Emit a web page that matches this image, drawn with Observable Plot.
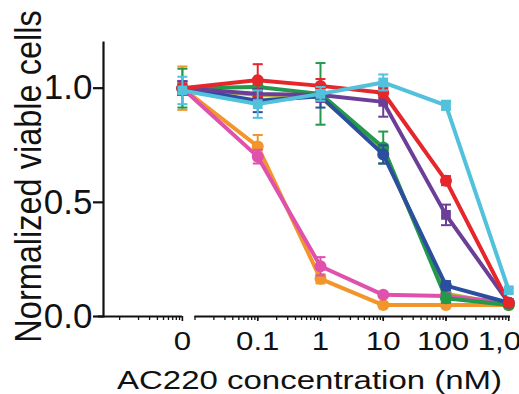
<!DOCTYPE html>
<html><head><meta charset="utf-8">
<script src="https://cdn.jsdelivr.net/npm/d3@7"></script>
<script src="https://cdn.jsdelivr.net/npm/@observablehq/plot@0.6"></script>
<style>body{margin:0;background:#fff}</style>
</head><body><div id="chart"></div>
<script>
// ---- data ----
const concentrations = [0, 0.1, 1, 10, 100, 1000];
const tickLabels = ["0", "0.1", "1", "10", "100", "1,000"];
const zeroPlotValue = 0.0063;           // log-axis stand-in for the "0" dose (axis break)
const breakStart = 0.01;                // second axis segment starts here
const yTicks = [0, 0.5, 1.0];
const xTitle = "AC220 concentration (nM)";
const yTitle = "Normalized viable cells";

const olive      = [1.00, 0.97, 0.96, 0.725, 0.10, 0.05];
const oliveErr   = [0, 0, 0, 0, 0, 0];
const orange     = [1.00, 0.745, 0.165, 0.05, 0.05, 0.05];
const orangeErr  = [0.095, 0.05, 0.02, 0.01, 0.01, 0.01];
const magenta    = [1.00, 0.70, 0.22, 0.095, 0.09, 0.06];
const magentaErr = [0.03, 0.03, 0.04, 0.01, 0.01, 0.01];
const green      = [1.00, 1.005, 0.975, 0.74, 0.08, 0.05];
const greenErr   = [0.085, 0.03, 0.135, 0.07, 0.02, 0.01];
const blue       = [1.00, 0.945, 0.965, 0.71, 0.135, 0.06];
const blueErr    = [0.03, 0.05, 0.05, 0.04, 0.02, 0.01];
const purple     = [1.00, 0.975, 0.97, 0.94, 0.445, 0.06];
const purpleErr  = [0.03, 0.02, 0.03, 0.065, 0.045, 0.01];
const red        = [1.00, 1.035, 1.01, 0.98, 0.595, 0.06];
const redErr     = [0.02, 0.07, 0.03, 0.02, 0.02, 0.01];
const cyan       = [0.99, 0.93, 0.975, 1.025, 0.925, 0.115];
const cyanErr    = [0.06, 0.06, 0.03, 0.035, 0.02, 0.01];

const series = [
  {name: "olive",   values: olive,   err: oliveErr,   color: "#b7b23a", symbol: "circle"},
  {name: "orange",  values: orange,  err: orangeErr,  color: "#f2952b", symbol: "circle"},
  {name: "magenta", values: magenta, err: magentaErr, color: "#e050ad", symbol: "circle"},
  {name: "green",   values: green,   err: greenErr,   color: "#23994a", symbol: "circle"},
  {name: "blue",    values: blue,    err: blueErr,    color: "#2b4f9e", symbol: "circle"},
  {name: "purple",  values: purple,  err: purpleErr,  color: "#6b3f98", symbol: "square"},
  {name: "red",     values: red,     err: redErr,     color: "#e5262b", symbol: "circle"},
  {name: "cyan",    values: cyan,    err: cyanErr,    color: "#52c1db", symbol: "square"}
];

const xPos = c => c === 0 ? zeroPlotValue : c;
const majorTicks = concentrations.map(xPos);
const labelRows = concentrations.map((c, i) => ({x: xPos(c), label: tickLabels[i]}));
const minorTicks = [];
for (let k = 1; k <= 9; k++) minorTicks.push(zeroPlotValue / 10 * k);
for (let e = -2; e <= 2; e++) for (let k = 1; k <= 9; k++) minorTicks.push(k * Math.pow(10, e));

const capSymbol = {draw(ctx, size) { const w = Math.sqrt(size / Math.PI); ctx.moveTo(-w, 0); ctx.lineTo(w, 0); }};

const marks = [];
// axes
marks.push(Plot.frame({anchor: "left", strokeWidth: 2.2}));
marks.push(Plot.ruleY([0], {x1: 2.9e-4, x2: zeroPlotValue, strokeWidth: 2.2}));
marks.push(Plot.ruleY([0], {x1: breakStart, x2: 1067, strokeWidth: 2.2}));
marks.push(Plot.axisY({ticks: yTicks, tickFormat: d3.format(".1f"), tickSize: 10, tickPadding: 1, fontSize: 35, strokeWidth: 2.2, label: null}));
marks.push(Plot.axisX({ticks: minorTicks, tickSize: 4, tickFormat: () => "", label: null, strokeWidth: 1.3}));
marks.push(Plot.axisX({ticks: majorTicks, tickSize: 5, tickFormat: () => "", label: null, strokeWidth: 1.6}));
marks.push(Plot.text(labelRows, {x: "x", text: "label", frameAnchor: "bottom", dy: 16, lineAnchor: "top", fontSize: 25, fill: "#111"}));

for (const s of series) {
  const rows = concentrations.map((c, i) => ({x: xPos(c), y: s.values[i], e: s.err[i]}));
  const errRows = rows.filter(r => r.e > 0);
  marks.push(Plot.ruleX(errRows, {x: "x", y1: r => r.y - r.e, y2: r => r.y + r.e, stroke: s.color, strokeWidth: 2}));
  marks.push(Plot.dot(errRows, {x: "x", y: r => r.y + r.e, symbol: capSymbol, r: 5, stroke: s.color, strokeWidth: 2, fill: "none"}));
  marks.push(Plot.dot(errRows, {x: "x", y: r => r.y - r.e, symbol: capSymbol, r: 5, stroke: s.color, strokeWidth: 2, fill: "none"}));
  marks.push(Plot.line(rows, {x: "x", y: "y", stroke: s.color, strokeWidth: 4}));
  marks.push(Plot.dot(rows, {x: "x", y: "y", symbol: s.symbol, r: s.symbol === "square" ? 5.5 : 6, fill: s.color, stroke: "none"}));
}

// titles
marks.push(Plot.text([xTitle], {frameAnchor: "bottom", dx: 2.5, dy: 72, lineAnchor: "bottom", fontSize: 25, fill: "#111"}));
marks.push(Plot.text([yTitle], {frameAnchor: "left", textAnchor: "middle", rotate: -90, dx: -63, dy: -3, lineAnchor: "bottom", fontSize: 32.5, fill: "#111"}));

const chart = Plot.plot({
  width: 519,
  height: 394,
  marginLeft: 103,
  marginRight: 9,
  marginTop: 42,
  marginBottom: 78,
  style: {fontFamily: "'Liberation Sans', Arial, Helvetica, sans-serif", background: "#fff", color: "#111"},
  x: {type: "log", domain: [3.12e-4, 1067], range: [100, 510]},
  y: {domain: [0, 1.2]},
  marks
});

// stretch texts horizontally like the reference figure
const tickLabelSet = new Set(tickLabels);
chart.querySelectorAll("text").forEach(t => {
  const tr = t.getAttribute("transform") || "";
  const s = t.textContent;
  if (tickLabelSet.has(s)) {
    const shift = s === "1,000" ? " translate(8,0)" : s === "100" ? " translate(-3,0)" : "";
    t.setAttribute("transform", tr + shift + " scale(1.25,1)");
  }
  if (s === xTitle) t.setAttribute("transform", tr + " scale(1.32,1)");
  if (s === yTitle) t.setAttribute("transform", tr + " scale(1,1.12)");
});

document.getElementById("chart").appendChild(chart);
</script>
</body></html>
